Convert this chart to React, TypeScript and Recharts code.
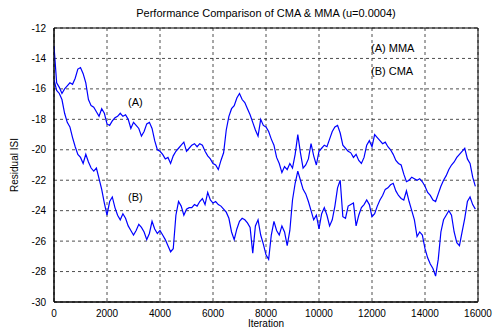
import { LineChart, Line, XAxis, YAxis, CartesianGrid, ReferenceArea } from "recharts"

// iteration grid shared by both curves (every 100 iterations)
const iterations = Array.from({ length: 160 }, (_, i) => i * 100)

// (A) MMA residual ISI
const mmaValues = [
  -13.2, -15.6, -15.9, -16.3, -16.0, -15.8, -15.6, -15.7, -15.3, -14.7,
  -14.6, -15.0, -15.6, -16.7, -17.1, -17.2, -17.5, -17.8, -17.3, -17.6,
  -18.3, -18.4, -18.1, -17.9, -17.8, -17.6, -17.8, -17.7, -18.0, -18.6,
  -18.2, -18.4, -18.6, -19.1, -18.8, -18.3, -18.2, -18.6, -19.4, -20.0,
  -20.1, -20.3, -20.6, -20.5, -20.9, -20.4, -20.1, -19.9, -19.7, -19.5,
  -20.1, -19.9, -19.7, -19.6, -19.8, -19.6, -19.7, -20.1, -20.4, -20.6,
  -20.9, -21.0, -21.3, -20.7, -20.2, -18.7, -17.8, -17.3, -17.1, -16.6,
  -16.3, -16.7, -16.9, -17.3, -17.7, -18.2, -18.7, -19.1, -18.0, -18.4,
  -18.5, -18.8, -19.3, -19.7, -20.5, -20.9, -21.5, -21.1, -21.3, -20.9,
  -21.2, -20.3, -19.0, -20.2, -21.2, -21.0, -20.6, -19.6, -20.4, -21.0,
  -20.1, -19.9, -19.7, -19.8, -19.3, -18.8, -18.5, -18.4, -18.9, -19.7,
  -19.9, -20.1, -20.2, -20.5, -20.3, -20.7, -20.9, -20.5, -19.7, -19.4,
  -19.8, -19.0, -19.2, -19.4, -19.6, -19.5, -19.8, -20.0, -20.3, -20.7,
  -20.9, -21.0, -21.6, -22.1, -22.0, -21.8, -21.9, -22.0, -21.9, -22.1,
  -22.4, -22.8, -23.0, -23.3, -23.4, -22.9, -22.4, -22.0, -21.7, -21.3,
  -21.0, -20.8, -20.5, -20.3, -20.1, -19.9, -20.6, -20.9, -21.8, -22.4,
]

// (B) CMA residual ISI
const cmaValues = [
  -15.4, -16.1, -16.3, -16.7, -17.6, -18.2, -18.5, -19.2, -19.8, -20.3,
  -20.5, -20.9, -20.3, -20.8, -21.2, -21.4, -21.2, -21.9, -22.6, -23.5,
  -24.3, -23.4, -23.1, -23.8, -24.3, -24.6, -24.2, -24.5, -25.0, -25.3,
  -25.6, -25.3, -24.9, -25.1, -25.4, -25.9, -25.5, -24.7, -25.2, -25.5,
  -25.3, -25.6, -25.9, -26.3, -26.7, -26.5, -24.3, -23.4, -23.7, -24.3,
  -23.9, -23.8, -23.8, -23.6, -23.7, -23.4, -23.2, -23.6, -22.8, -23.3,
  -23.5, -23.4, -23.6, -23.7, -23.9, -24.1, -24.5, -25.4, -25.9, -25.2,
  -24.7, -24.5, -24.6, -24.8, -25.1, -26.8, -25.0, -24.6, -25.6, -26.2,
  -26.9, -27.2, -25.6, -24.7, -25.3, -25.6, -25.0, -25.4, -26.3, -25.3,
  -23.3, -22.2, -21.4, -22.0, -22.6, -22.9, -23.4, -24.0, -24.6, -24.3,
  -25.2, -24.2, -23.8, -24.3, -25.0, -24.6, -23.7, -22.5, -22.0, -24.4,
  -24.5, -23.7, -23.6, -23.5, -25.0, -24.3, -23.8, -23.6, -23.3, -23.6,
  -24.4, -24.2, -23.7, -23.3, -23.0, -22.6, -22.5, -22.3, -22.2, -22.7,
  -23.0, -23.2, -23.3, -22.7, -23.4, -24.0, -24.6, -25.7, -25.4, -25.6,
  -26.5, -27.1, -27.5, -27.8, -28.3, -27.2, -25.4, -24.6, -24.3, -24.0,
  -24.3, -25.4, -26.1, -26.3, -25.4, -24.5, -23.4, -23.1, -23.6, -23.9,
]

const xTicks = [0, 2000, 4000, 6000, 8000, 10000, 12000, 14000, 16000]
const yTicks = [-30, -28, -26, -24, -22, -20, -18, -16, -14, -12]

const data = iterations.map((it, i) => ({ iteration: it, mma: mmaValues[i], cma: cmaValues[i] }))

const font = "'Liberation Sans', Arial, sans-serif"
const tickStyle = { fontSize: 10, fill: "#000", fontFamily: font }
const labelStyle = { fontSize: 10, fill: "#000", fontFamily: font }

export default function App() {
  return (
    <div style={{ position: "absolute", left: 0, top: 0, width: 499, height: 330, background: "#fff", fontFamily: font }}>
      <LineChart width={499} height={330} data={data} margin={{ top: 28, right: 21, bottom: 0, left: 0 }}>
        <CartesianGrid stroke="#222" strokeDasharray="3 3" strokeWidth={0.8} horizontalValues={yTicks} verticalValues={xTicks} />
        <XAxis
          dataKey="iteration"
          type="number"
          domain={[0, 16000]}
          ticks={xTicks}
          tick={tickStyle}
          tickLine={false}
          axisLine={{ stroke: "#000" }}
          height={28}
          allowDataOverflow
          label={{ value: "Iteration", position: "insideBottom", offset: 3, style: labelStyle }}
        />
        <YAxis
          type="number"
          domain={[-30, -12]}
          ticks={yTicks}
          tick={tickStyle}
          tickLine={false}
          axisLine={{ stroke: "#000" }}
          width={54}
          allowDataOverflow
          label={{ value: "Residual ISI", angle: -90, position: "insideLeft", offset: 14, style: { ...labelStyle, textAnchor: "middle" } }}
        />
        <ReferenceArea x1={0} x2={16000} y1={-30} y2={-12} fill="none" stroke="#000" strokeWidth={1} ifOverflow="extendDomain" />
        <Line dataKey="mma" stroke="#0000ff" strokeWidth={1.2} dot={false} isAnimationActive={false} />
        <Line dataKey="cma" stroke="#0000ff" strokeWidth={1.2} dot={false} isAnimationActive={false} />
      </LineChart>
      <div style={{ position: "absolute", left: 54, width: 424, top: 7, textAlign: "center", fontSize: 11 }}>
        Performance Comparison of CMA &amp; MMA (u=0.0004)
      </div>
      <div style={{ position: "absolute", left: 128, top: 96, fontSize: 11 }}>(A)</div>
      <div style={{ position: "absolute", left: 128, top: 191, fontSize: 11 }}>(B)</div>
      <div style={{ position: "absolute", left: 371, top: 42, fontSize: 11 }}>(A) MMA</div>
      <div style={{ position: "absolute", left: 371, top: 65, fontSize: 11 }}>(B) CMA</div>
    </div>
  )
}
